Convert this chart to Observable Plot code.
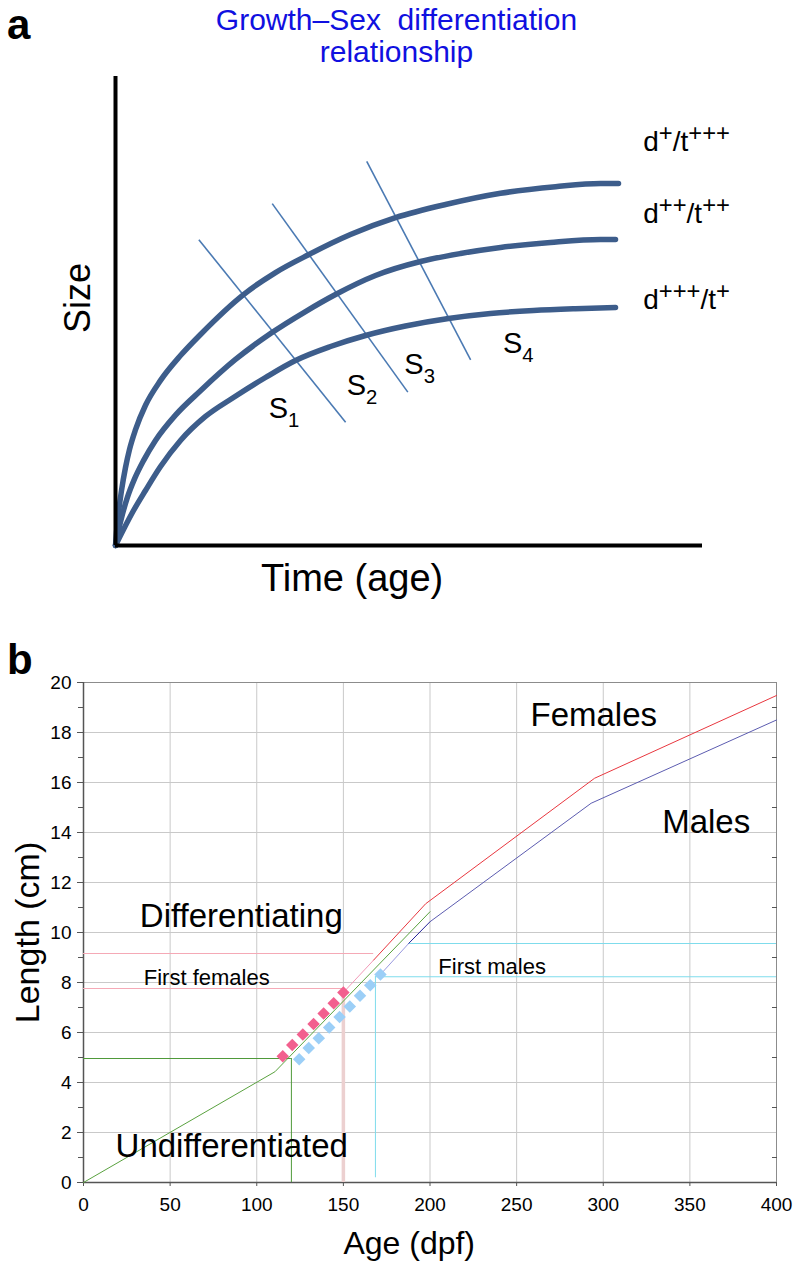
<!DOCTYPE html>
<html>
<head>
<meta charset="utf-8">
<script src="https://cdn.jsdelivr.net/npm/d3@7"></script>
<script src="https://cdn.jsdelivr.net/npm/@observablehq/plot@0.6"></script>
<style>
  body { margin: 0; background: #fff; font-family: "Liberation Sans", Arial, Helvetica, sans-serif; }
  #wrap { position: relative; width: 793px; height: 1262px; overflow: hidden; background: #fff; }
  .abs { position: absolute; }
  .plabel { font-weight: bold; font-size: 42px; line-height: 42px; color: #000; }
  .title { left: 0; width: 793px; text-align: center; color: #1010e0; font-size: 30px; line-height: 32px; top: 4px; }
</style>
</head>
<body>
<div id="wrap"></div>
<script>
// ---------- Panel a: conceptual growth curves (arbitrary units) ----------
const curveNames = ["d^{+}/t^{+++}", "d^{++}/t^{++}", "d^{+++}/t^{+}"];
const topTime = [0, 0.017, 0.051, 0.102, 0.170, 0.239, 0.341, 0.511, 0.767, 1.107, 1.448, 2.181, 2.726, 3.288, 4.003, 4.770, 5.622, 6.559, 7.496, 8.262, 8.569];
const topSize = [0, 0.28, 0.70, 1.17, 1.66, 2.05, 2.47, 2.99, 3.52, 4.05, 4.50, 5.35, 5.82, 6.20, 6.63, 6.99, 7.27, 7.51, 7.65, 7.72, 7.72];
const midTime = [0, 0.051, 0.119, 0.204, 0.324, 0.477, 0.681, 1.022, 1.448, 2.044, 2.641, 3.237, 3.748, 4.429, 5.196, 5.877, 6.559, 7.411, 8.262, 8.518];
const midSize = [0, 0.320, 0.670, 1.030, 1.420, 1.810, 2.240, 2.780, 3.300, 3.966, 4.520, 4.989, 5.352, 5.757, 6.055, 6.226, 6.354, 6.461, 6.525, 6.525];
const lowTime = [0, 0.136, 0.307, 0.511, 0.767, 1.107, 1.533, 2.010, 2.555, 3.066, 3.663, 4.259, 4.940, 5.673, 6.388, 7.121, 7.836, 8.518];
const lowSize = [0, 0.341, 0.746, 1.173, 1.684, 2.239, 2.751, 3.156, 3.582, 3.945, 4.243, 4.478, 4.680, 4.840, 4.947, 5.011, 5.049, 5.075];
// stage isolines S1..S3 (start / end) and stage labels S1..S4
const stageNames = ["S_{1}", "S_{2}", "S_{3}", "S_{4}"];
const stageTime1 = [1.42, 2.67, 4.28];
const stageSize1 = [6.52, 7.29, 8.19];
const stageTime2 = [3.92, 4.98, 6.05];
const stageSize2 = [2.63, 3.27, 3.96];
const stageLabelTime = [2.61, 3.94, 4.92, 6.60];
const stageLabelSize = [2.72, 3.20, 3.66, 4.10];
const curveLabelTime = [8.99, 8.99, 8.99];
const curveLabelSize = [8.42, 6.87, 5.05];

// ---------- Panel b: length vs age ----------
const ageTicks = [0, 50, 100, 150, 200, 250, 300, 350, 400];
const lengthTicks = [0, 2, 4, 6, 8, 10, 12, 14, 16, 18, 20];
const lengthMinor = [1, 3, 5, 7, 9, 11, 13, 15, 17, 19];
const undiffAge = [0, 110.5, 200];
const undiffLen = [0, 4.43, 10.83];
const femaleAge = [150, 167.5, 197.5, 295, 400];
const femaleLen = [7.6, 8.9, 11.15, 16.17, 19.48];
const maleAge = [171.4, 187.8, 200, 293, 400];
const maleLen = [8.32, 9.57, 10.43, 15.17, 18.5];
const femDotAge = [115, 120.5, 126.6, 132.8, 138.6, 144.4, 150];
const femDotLen = [5.05, 5.5, 5.92, 6.34, 6.76, 7.17, 7.6];
const maleDotAge = [124.5, 130, 135.8, 141.8, 147.8, 153.7, 159.6, 165.5, 171.4];
const maleDotLen = [4.93, 5.38, 5.77, 6.2, 6.62, 7.04, 7.47, 7.89, 8.32];
const diffStartAge = 120, diffStartLen = 4.96;
const firstFemaleAge = 150, firstFemaleLen = 7.76, femaleUpperLen = 9.16, femaleUpperAge = 167.5;
const firstMaleAge = 168.5, firstMaleLen = 8.23, maleUpperLen = 9.56, maleUpperAge = 188;
const textLabels = ["Females", "Males", "Differentiating", "Undifferentiated"];
const textAge = [258, 334, 32.5, 18.5];
const textLen = [18.25, 14.0, 10.24, 1.04];
const smallLabels = ["First females", "First males"];
const smallAge = [34.8, 204.8];
const smallLen = [7.91, 8.35];

const pts = (xs, ys) => xs.map((x, i) => ({x, y: ys[i]}));

function richify(svg) {
  d3.select(svg).selectAll("text").each(function () {
    const s = this.textContent;
    if (!/[\^_]\{/.test(s)) return;
    const fs = parseFloat(getComputedStyle(this).fontSize) || 26;
    const isSup = /\^\{/.test(s);
    const ratio = isSup ? 0.85 : 0.7;
    const el = d3.select(this);
    el.text(null);
    const re = /([\^_])\{([^}]*)\}|([^\^_]+)/g;
    let m, cur = 0;
    while ((m = re.exec(s))) {
      if (m[3]) {
        el.append("tspan").attr("dy", -cur).text(m[3]); cur = 0;
      } else {
        const target = m[1] === "^" ? -0.36 * fs : 0.3 * fs;
        el.append("tspan").attr("font-size", (fs * ratio).toFixed(1)).attr("dy", target - cur).text(m[2]);
        cur = target;
      }
    }
  });
}

const wrap = document.getElementById("wrap");
const font = "Liberation Sans, Arial, Helvetica, sans-serif";

const curveData = [
  ...pts(topTime, topSize).map(d => ({...d, c: curveNames[0]})),
  ...pts(midTime, midSize).map(d => ({...d, c: curveNames[1]})),
  ...pts(lowTime, lowSize).map(d => ({...d, c: curveNames[2]}))
];
const stages = stageTime1.map((t, i) => ({x1: t, y1: stageSize1[i], x2: stageTime2[i], y2: stageSize2[i]}));

const chartA = Plot.plot({
  width: 793, height: 620,
  marginLeft: 115, marginRight: 91, marginTop: 76, marginBottom: 75,
  x: {domain: [0, 10], axis: null},
  y: {domain: [0, 10], axis: null},
  style: {fontFamily: font, background: "#fff", color: "#000", overflow: "visible"},
  marks: [
    Plot.link(stages, {x1: "x1", y1: "y1", x2: "x2", y2: "y2", stroke: "#4b7ab3", strokeWidth: 1.6}),
    Plot.line(curveData, {x: "x", y: "y", z: "c", curve: "monotone-x", stroke: "#3d5d8b", strokeWidth: 5.5, strokeLinecap: "round"}),
    Plot.ruleX([0], {stroke: "#000", strokeWidth: 4}),
    Plot.ruleY([0], {stroke: "#000", strokeWidth: 4}),
    Plot.text(curveNames, {x: (d, i) => curveLabelTime[i], y: (d, i) => curveLabelSize[i], text: d => d, textAnchor: "start", lineAnchor: "bottom", fontSize: 28, fill: "#000"}),
    Plot.text(stageNames, {x: (d, i) => stageLabelTime[i], y: (d, i) => stageLabelSize[i], text: d => d, textAnchor: "start", lineAnchor: "bottom", fontSize: 29, fill: "#000"}),
    Plot.text(["Size"], {frameAnchor: "left", textAnchor: "middle", dx: -37, dy: -13, rotate: -90, fontSize: 36, fill: "#000"}),
    Plot.text(["Time (age)"], {x: 4.03, y: 0, dy: 33, fontSize: 38, fill: "#000"})
  ]
});
chartA.style.position = "absolute"; chartA.style.left = "0px"; chartA.style.top = "0px";
wrap.appendChild(chartA);
richify(chartA);

const chartB = Plot.plot({
  width: 793, height: 642,
  marginLeft: 83, marginRight: 17, marginTop: 62, marginBottom: 80,
  x: {domain: [0, 400]},
  y: {domain: [0, 20]},
  style: {fontFamily: font, background: "#fff", color: "#000", overflow: "visible"},
  marks: [
    Plot.gridX(ageTicks.slice(1, -1), {stroke: "#c9c9c9", strokeOpacity: 1}),
    Plot.gridY(lengthTicks.slice(1, -1), {stroke: "#c9c9c9", strokeOpacity: 1}),
    Plot.frame({stroke: "#8c8c8c"}),
    Plot.axisX(ageTicks, {tickSize: 4, tickPadding: 11, stroke: "#555", fontSize: 19, label: null}),
    Plot.axisY(lengthTicks, {tickSize: 6, tickPadding: 6, stroke: "#555", fontSize: 19, label: null}),
    Plot.axisY(lengthMinor, {tickSize: 5, stroke: "#555", tickFormat: () => "", label: null}),
    Plot.axisY(lengthMinor, {anchor: "right", tickSize: 5, dx: -5, stroke: "#555", tickFormat: () => "", label: null}),
    Plot.ruleX([0], {stroke: "#555", strokeWidth: 1.5}),
    Plot.ruleY([0], {stroke: "#555", strokeWidth: 1.5}),
    // reference lines
    Plot.ruleX([firstFemaleAge], {y1: 0, y2: firstFemaleLen - 0.06, stroke: "#ecd0d0", strokeWidth: 3.5}),
    Plot.ruleY([femaleUpperLen], {x1: 0, x2: femaleUpperAge, stroke: "#f5a9b6", strokeWidth: 1}),
    Plot.ruleY([firstFemaleLen], {x1: 0, x2: firstFemaleAge, stroke: "#f5a9b6", strokeWidth: 1}),
    Plot.ruleY([diffStartLen], {x1: 0, x2: diffStartAge, stroke: "#4f9a3a", strokeWidth: 1}),
    Plot.ruleX([diffStartAge], {y1: 0, y2: diffStartLen, stroke: "#4f9a3a", strokeWidth: 1}),
    Plot.ruleY([maleUpperLen], {x1: maleUpperAge, x2: 400, stroke: "#7fdcec", strokeWidth: 1}),
    Plot.ruleY([firstMaleLen], {x1: firstMaleAge, x2: 400, stroke: "#7fdcec", strokeWidth: 1}),
    Plot.ruleX([firstMaleAge], {y1: 0.19, y2: firstMaleLen, stroke: "#7fdcec", strokeWidth: 1}),
    // growth lines
    Plot.line(pts(undiffAge, undiffLen), {x: "x", y: "y", stroke: "#5aa23f", strokeWidth: 1}),
    Plot.line(pts(femaleAge.slice(0, 2), femaleLen.slice(0, 2)), {x: "x", y: "y", stroke: "#f29ab8", strokeWidth: 1}),
    Plot.line(pts(femaleAge.slice(1), femaleLen.slice(1)), {x: "x", y: "y", stroke: "#e8373f", strokeWidth: 1}),
    Plot.line(pts(maleAge.slice(0, 2), maleLen.slice(0, 2)), {x: "x", y: "y", stroke: "#9a9ae0", strokeWidth: 1}),
    Plot.line(pts(maleAge.slice(1, 3), maleLen.slice(1, 3)), {x: "x", y: "y", stroke: "#25259a", strokeWidth: 1}),
    Plot.line(pts(maleAge.slice(2), maleLen.slice(2)), {x: "x", y: "y", stroke: "#5c5cb0", strokeWidth: 1}),
    // first differentiated individuals
    Plot.dot(pts(femDotAge, femDotLen), {x: "x", y: "y", symbol: "square", rotate: 45, r: 5, fill: "#f2608e", stroke: "none"}),
    Plot.dot(pts(maleDotAge, maleDotLen), {x: "x", y: "y", symbol: "square", rotate: 45, r: 5, fill: "#9ccff7", stroke: "none"}),
    // annotations
    Plot.text(textLabels, {x: (d, i) => textAge[i], y: (d, i) => textLen[i], text: d => d, textAnchor: "start", lineAnchor: "bottom", fontSize: 33, fill: "#000"}),
    Plot.text(smallLabels, {x: (d, i) => smallAge[i], y: (d, i) => smallLen[i], text: d => d, textAnchor: "start", lineAnchor: "bottom", fontSize: 22, fill: "#000"}),
    Plot.text(["Length (cm)"], {frameAnchor: "left", textAnchor: "middle", dx: -55, rotate: -90, fontSize: 34, fill: "#000"}),
    Plot.text(["Age (dpf)"], {frameAnchor: "bottom", x: 188, dy: 71, lineAnchor: "bottom", fontSize: 32, fill: "#000"})
  ]
});
chartB.style.position = "absolute"; chartB.style.left = "0px"; chartB.style.top = "620px";
wrap.appendChild(chartB);

const title = document.createElement("div");
title.className = "abs title";
title.innerHTML = "Growth\u2013Sex&nbsp; differentiation<br>relationship";
wrap.appendChild(title);
const la = document.createElement("div");
la.className = "abs plabel"; la.style.left = "7px"; la.style.top = "4px"; la.textContent = "a";
wrap.appendChild(la);
const lb = document.createElement("div");
lb.className = "abs plabel"; lb.style.left = "7px"; lb.style.top = "639px"; lb.textContent = "b";
wrap.appendChild(lb);
</script>
</body>
</html>
